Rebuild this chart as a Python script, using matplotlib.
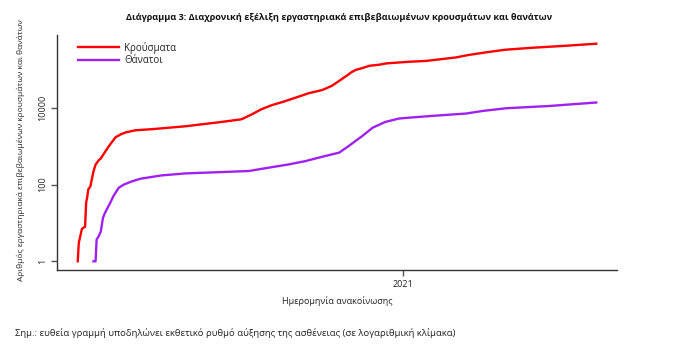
import numpy as np
import pandas as pd
import matplotlib
matplotlib.use('Agg')
import matplotlib.pyplot as plt

# values (log scale)
case_dates = ['2020-02-26', '2020-02-27', '2020-02-28', '2020-03-01', '2020-03-04',
              '2020-03-05', '2020-03-06', '2020-03-07', '2020-03-09', '2020-03-12',
              '2020-03-14', '2020-03-17', '2020-03-19', '2020-03-24', '2020-03-28',
              '2020-04-02', '2020-04-07', '2020-04-12', '2020-04-21', '2020-05-07',
              '2020-06-08', '2020-07-10', '2020-07-31', '2020-08-10', '2020-08-19',
              '2020-08-29', '2020-09-08', '2020-09-21', '2020-10-03',
              '2020-10-16', '2020-10-25', '2020-11-01', '2020-11-08', '2020-11-13',
              '2020-11-17', '2020-11-23', '2020-11-30', '2020-12-09', '2020-12-16',
              '2020-12-28', '2021-01-07', '2021-01-23', '2021-02-20', '2021-03-04',
              '2021-03-20', '2021-04-08', '2021-05-03', '2021-06-04', '2021-07-04']
cases = [1, 3, 4, 7, 8,
         34, 46, 74, 89, 220,
         330, 430, 480, 780, 1120,
         1700, 2030, 2290, 2590, 2770,
         3300, 4200, 5000, 6760, 9150,
         11700, 14100, 18500, 23900,
         29000, 37100, 50000, 67500, 85000,
         97000, 108000, 124000, 132000, 143000,
         151000, 158000, 166000, 204000, 236000,
         275000, 324000, 364000, 410000, 466000]

death_dates = ['2020-03-12', '2020-03-14', '2020-03-15', '2020-03-17', '2020-03-19',
               '2020-03-21', '2020-03-23', '2020-03-28', '2020-03-31', '2020-04-05',
               '2020-04-10', '2020-04-18', '2020-04-26', '2020-05-16', '2020-06-08',
               '2020-07-10', '2020-08-07', '2020-08-26', '2020-09-14', '2020-09-30',
               '2020-10-16', '2020-11-01', '2020-11-10', '2020-11-23', '2020-12-03',
               '2020-12-15', '2020-12-28', '2021-01-07', '2021-01-29', '2021-03-02',
               '2021-03-18', '2021-04-09', '2021-05-20', '2021-07-04']
deaths = [1, 1, 3.7, 4.5, 6,
          13.5, 18.4, 33.5, 50, 82,
          100, 122, 142, 173, 195,
          210, 225, 275, 334, 408,
          530, 676, 1000, 1830, 3030,
          4270, 5230, 5530, 6140, 7070,
          8270, 9700, 11100, 13700]

series_labels = ['Κρούσματα', 'Θάνατοι']
y_ticks = [1, 100, 10000]
x_tick_label = '2021'

title = 'Διάγραμμα 3: Διαχρονική εξέλιξη εργαστηριακά επιβεβαιωμένων κρουσμάτων και θανάτων'
ylabel = 'Αριθμός εργαστηριακά επιβεβαιωμένων κρουσμάτων και θανάτων'
xlabel = 'Ημερομηνία ανακοίνωσης'
note = 'Σημ.: ευθεία γραμμή υποδηλώνει εκθετικό ρυθμό αύξησης της ασθένειας (σε λογαριθμική κλίμακα)'

plt.rcParams['font.family'] = ['Open Sans', 'DejaVu Sans']
txt = '#222222'

fig = plt.figure(figsize=(6.94, 3.61), dpi=100)
ax = fig.add_axes([57 / 694, 91 / 361, 560 / 694, 235 / 361])

ax.plot(pd.to_datetime(case_dates), cases, color='#ff0000', lw=1.7,
        label=series_labels[0])
ax.plot(pd.to_datetime(death_dates), deaths, color='#a020f0', lw=1.7,
        label=series_labels[1])

ax.set_yscale('log')
ax.margins(x=0.04, y=0.04)

ax.set_yticks(y_ticks)
ax.set_yticklabels([str(v) for v in y_ticks], rotation=90, va='center',
                   fontsize=6.5, color=txt)
ax.yaxis.set_minor_locator(matplotlib.ticker.NullLocator())
ax.set_xticks([pd.Timestamp('2021-01-01')])
ax.set_xticklabels([x_tick_label], fontsize=6.5, color=txt)
ax.tick_params(length=4, width=1, color='#555555', pad=3)

for s in ['top', 'right']:
    ax.spines[s].set_visible(False)
for s in ['left', 'bottom']:
    ax.spines[s].set_color('#333333')
    ax.spines[s].set_linewidth(1)

leg = ax.legend(loc='upper left', bbox_to_anchor=(0.025, 1.0), frameon=False,
                fontsize=7, handlelength=4.2, handletextpad=0.6,
                labelspacing=0.15, borderaxespad=0.3)
for t in leg.get_texts():
    t.set_color(txt)

fig.text(339 / 694, 1 - 17 / 361, title, ha='center', va='center',
         fontsize=6.6, fontweight='bold', color='#111111')
fig.text(21 / 694, 1 - 150 / 361, ylabel, ha='center',
         va='center', rotation=90, fontsize=6.0, color=txt)
fig.text(337 / 694, 1 - 301 / 361, xlabel, ha='center', va='center',
         fontsize=6.5, color=txt)
fig.text(15 / 694, 1 - 333 / 361, note, ha='left', va='center',
         fontsize=6.8, color=txt)

fig.savefig('out.png', dpi=100)
